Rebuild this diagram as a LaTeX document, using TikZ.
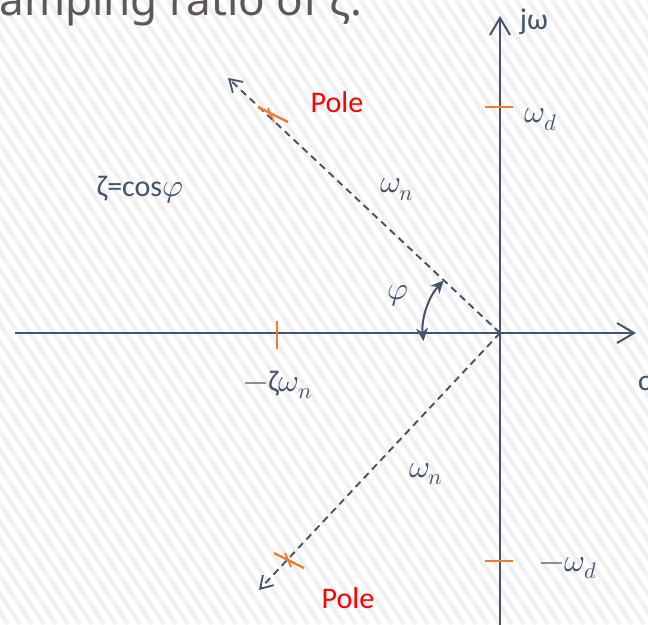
\documentclass[tikz,border=0pt]{standalone}
\usepackage{fontspec}
\usepackage{unicode-math}
\setmainfont{Carlito}
\newfontfamily\titlefont{Noto Sans}
\usetikzlibrary{arrows.meta}
\definecolor{axisc}{HTML}{44546A}
\definecolor{orangec}{HTML}{ED7D31}
\definecolor{titlec}{HTML}{5E5757}
\definecolor{hatchc}{HTML}{F0F0F0}
\tikzset{
  axis/.style={draw=axisc, line width=2pt, -{Straight Barb[length=17pt,width=20pt,line width=2pt]}},
  ray/.style={draw=axisc, line width=1.9pt, dash pattern=on 7pt off 5pt, -{Straight Barb[length=12pt,width=15pt,line width=1.8pt]}},
  tickm/.style={draw=orangec, line width=2.4pt},
  lbl/.style={text=axisc, font=\fontsize{30}{34}\selectfont, inner sep=0pt},
  mlbl/.style={text=axisc, font=\fontsize{32}{36}\selectfont, inner sep=0pt},
  polelbl/.style={text=red, font=\fontsize{30}{34}\selectfont, inner sep=0pt},
  hatch/.style={draw=hatchc, line width=4pt},
  anglearr/.style={draw=axisc, line width=2pt, {Stealth[length=13pt,width=12pt]}-{Stealth[length=13pt,width=12pt]}}
}
\begin{document}
\begin{tikzpicture}[x=1pt,y=-1pt]
\useasboundingbox (0,0) rectangle (648,624);
\fill[white] (0,0) rectangle (648,624);
\begin{scope}
\clip (0,0) rectangle (648,624);
\foreach \i in {-36,...,55} { \draw[hatch] (\i*12,0) -- ++(416,624); }
\end{scope}
% title (cut off by the page edge, as in the reference)
\node[anchor=base east, text=titlec, font=\titlefont\fontsize{44}{48}\selectfont, inner sep=0pt] (title) at (362,15) {damping ratio of ζ.};
% axes
\coordinate (O) at (500,333);
\coordinate (xs) at (15,333);
\coordinate (xe) at (636,333);
\coordinate (ys) at (500,630);
\coordinate (ye) at (500,16);
\draw[axis] (xs) -- (xe);
\draw[axis] (ys) -- (ye);
% rays
\coordinate (P1end) at (228,78);
\coordinate (P2end) at (259,590);
\draw[ray] (O) -- (P1end);
\draw[ray] (O) -- (P2end);
% pole markers
\coordinate (a1) at (258,107); \coordinate (a2) at (288,122);
\coordinate (a3) at (268,108); \coordinate (a4) at (274,122);
\draw[tickm] (a1) -- (a2); \draw[tickm, line width=1.8pt] (a3) -- (a4);
\coordinate (b1) at (274,553); \coordinate (b2) at (304,568);
\coordinate (b3) at (285,553); \coordinate (b4) at (291,567);
\draw[tickm] (b1) -- (b2); \draw[tickm, line width=1.8pt] (b3) -- (b4);
% axis ticks
\coordinate (t1) at (485,107); \coordinate (t2) at (513,107);
\draw[tickm] (t1) -- (t2);
\coordinate (t3) at (485,561); \coordinate (t4) at (513,561);
\draw[tickm] (t3) -- (t4);
\coordinate (t5) at (277,321); \coordinate (t6) at (277,349);
\draw[tickm] (t5) -- (t6);
% angle arc (y axis points down, so angles are mirrored)
\draw[anglearr] (O) ++(174:77) arc[start angle=174, end angle=223, radius=77];
% labels
\node[lbl] (jw) at (534,22) {jω};
\node[lbl] (sig) at (646,383) {σ};
\node[mlbl] (wd) at (541,120) {$\omega_d$};
\node[mlbl] (mwd) at (568,568) {$-\omega_d$};
\node[mlbl] (mzw) at (278,385) {$-${\fontsize{30}{34}\selectfont ζ}$\omega_n$};
\node[mlbl] (wn1) at (397,190) {$\omega_n$};
\node[mlbl] (wn2) at (426,474) {$\omega_n$};
\node[mlbl] (phi) at (398,296) {$\varphi$};
\node[lbl] (zeta) at (140,190) {ζ=cos{\fontsize{32}{36}\selectfont$\varphi$}};
\node[polelbl] (pole1) at (337,102) {Pole};
\node[polelbl] (pole2) at (348,598) {Pole};
\end{tikzpicture}
\end{document}
